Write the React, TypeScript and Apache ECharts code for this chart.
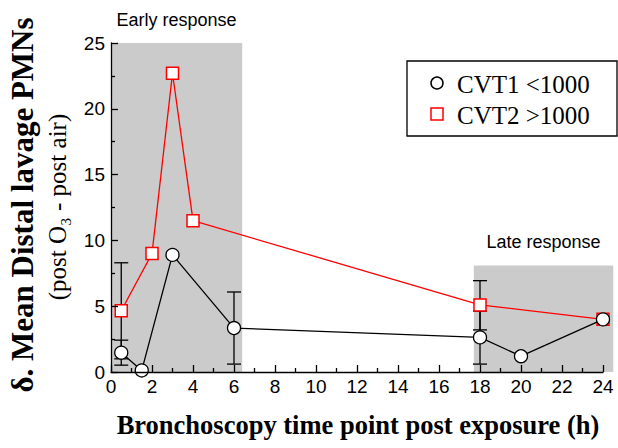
import React, { useEffect, useRef } from "react";
import * as echarts from "echarts";

// ---- data ----
const hoursCVT1 = [0.5, 1.5, 3, 6, 18, 20, 24];
const valuesCVT1 = [1.47, 0.12, 8.9, 3.34, 2.63, 1.2, 4.0];
const hoursCVT2 = [0.5, 2, 3, 4, 18, 24];
const valuesCVT2 = [4.65, 9.0, 22.7, 11.5, 5.1, 4.0];
// [hour, lower, upper]
const errorsCVT1 = [
  [0.5, 0.52, 2.42],
  [6, 0.6, 6.08],
  [18, 0.6, 4.63],
];
const errorsCVT2 = [
  [0.5, 1.0, 8.3],
  [18, 3.2, 6.94],
];
// [start hour, end hour, top value]
const windowRanges = [
  [0, 6.4, 25],
  [17.7, 24.5, 8.1],
];
const windowNames = ["Early response", "Late response"];
const seriesNames = ["CVT1 <1000", "CVT2 >1000"];
const yTitle = "δ. Mean Distal lavage PMNs";
const ySubTitle = "(post O₃ - post air)";
const xTitle = "Bronchoscopy time point post exposure (h)";

const SERIF = '"Liberation Serif", "Times New Roman", serif';
const SANS = '"Liberation Sans", Arial, sans-serif';

export default function App() {
  const ref = useRef<HTMLDivElement>(null);
  useEffect(() => {
    if (!ref.current) return;
    const chart = echarts.init(ref.current, null, { renderer: "svg" });

    const errorRender = (params: any, api: any) => {
      const x = api.value(0);
      const lo = api.coord([x, api.value(1)]);
      const hi = api.coord([x, api.value(2)]);
      const cap = 7;
      const st = { stroke: "#000", lineWidth: 1.3 };
      return {
        type: "group",
        children: [
          { type: "line", shape: { x1: lo[0], y1: lo[1], x2: hi[0], y2: hi[1] }, style: st },
          { type: "line", shape: { x1: lo[0] - cap, y1: lo[1], x2: lo[0] + cap, y2: lo[1] }, style: st },
          { type: "line", shape: { x1: hi[0] - cap, y1: hi[1], x2: hi[0] + cap, y2: hi[1] }, style: st },
        ],
      };
    };

    const axisCommon = {
      type: "value" as const,
      z: 10,
      axisLine: { show: true, onZero: false, lineStyle: { color: "#000", width: 1.3 } },
      axisTick: { show: true, inside: true, length: 7, lineStyle: { color: "#000", width: 1.3 } },
      minorTick: { show: true, splitNumber: 2, length: 4, lineStyle: { color: "#000", width: 1.3 } },
      splitLine: { show: false },
      minorSplitLine: { show: false },
    };

    chart.setOption({
      animation: false,
      backgroundColor: "#fff",
      grid: { left: 111, right: 15, top: 43, bottom: 76, containLabel: false },
      xAxis: {
        ...axisCommon,
        min: 0,
        max: 24,
        interval: 2,
        axisLabel: { color: "#000", fontSize: 19, fontFamily: SANS, margin: 5 },
      },
      yAxis: {
        ...axisCommon,
        min: 0,
        max: 25,
        interval: 5,
        axisLabel: { color: "#000", fontSize: 19, fontFamily: SANS, margin: 6 },
      },
      series: [
        {
          type: "custom",
          name: "windows",
          z: 1,
          silent: true,
          clip: false,
          data: windowRanges,
          encode: { x: [0, 1], y: 2 },
          renderItem: (params: any, api: any) => {
            const p0 = api.coord([api.value(0), api.value(2)]);
            const p1 = api.coord([api.value(1), 0]);
            return {
              type: "group",
              children: [
                {
                  type: "rect",
                  shape: { x: p0[0], y: p0[1], width: p1[0] - p0[0], height: p1[1] - p0[1] },
                  style: { fill: "#cbcbcb" },
                },
                {
                  type: "text",
                  style: {
                    text: windowNames[params.dataIndex],
                    x: (p0[0] + p1[0]) / 2,
                    y: p0[1] - 23,
                    align: "center",
                    verticalAlign: "middle",
                    fill: "#000",
                    font: `18px ${SANS}`,
                  },
                },
              ],
            };
          },
        },
        {
          type: "custom",
          name: "err1",
          z: 3,
          silent: true,
          clip: false,
          data: errorsCVT1,
          encode: { x: 0, y: [1, 2] },
          renderItem: errorRender,
        },
        {
          type: "custom",
          name: "err2",
          z: 3,
          silent: true,
          clip: false,
          data: errorsCVT2,
          encode: { x: 0, y: [1, 2] },
          renderItem: errorRender,
        },
        {
          type: "line",
          name: seriesNames[1],
          z: 4,
          clip: false,
          data: hoursCVT2.map((h, i) => [h, valuesCVT2[i]]),
          symbol: "rect",
          symbolSize: 12,
          lineStyle: { color: "#ff0000", width: 1.3 },
          itemStyle: { color: "#fff", borderColor: "#ff0000", borderWidth: 1.5 },
        },
        {
          type: "line",
          name: seriesNames[0],
          z: 5,
          clip: false,
          data: hoursCVT1.map((h, i) => [h, valuesCVT1[i]]),
          symbol: "circle",
          symbolSize: 13,
          lineStyle: { color: "#000", width: 1.3 },
          itemStyle: { color: "#fff", borderColor: "#000", borderWidth: 1.3 },
        },
      ],
      graphic: [
        {
          type: "text",
          x: 22,
          y: 205,
          rotation: Math.PI / 2,
          style: { text: yTitle, font: `bold 31px ${SERIF}`, align: "center", verticalAlign: "middle", fill: "#000" },
        },
        {
          type: "text",
          x: 57,
          y: 207,
          rotation: Math.PI / 2,
          style: { text: ySubTitle, font: `25px ${SERIF}`, align: "center", verticalAlign: "middle", fill: "#000" },
        },
        {
          type: "text",
          x: 358,
          y: 425,
          style: { text: xTitle, font: `bold 26.5px ${SERIF}`, align: "center", verticalAlign: "middle", fill: "#000" },
        },
        {
          type: "rect",
          shape: { x: 407, y: 61, width: 210, height: 75 },
          style: { fill: "#fff", stroke: "#000", lineWidth: 1.3 },
          z: 20,
        },
        {
          type: "circle",
          shape: { cx: 437, cy: 83, r: 6 },
          style: { fill: "#fff", stroke: "#000", lineWidth: 1.5 },
          z: 21,
        },
        {
          type: "rect",
          shape: { x: 431, y: 108, width: 12, height: 12 },
          style: { fill: "#fff", stroke: "#ff0000", lineWidth: 1.5 },
          z: 21,
        },
        {
          type: "text",
          x: 457,
          y: 84,
          z: 21,
          style: { text: seriesNames[0], font: `25px ${SERIF}`, align: "left", verticalAlign: "middle", fill: "#000" },
        },
        {
          type: "text",
          x: 457,
          y: 115,
          z: 21,
          style: { text: seriesNames[1], font: `25px ${SERIF}`, align: "left", verticalAlign: "middle", fill: "#000" },
        },
      ],
    });
    return () => chart.dispose();
  }, []);
  return <div ref={ref} style={{ position: "fixed", left: 0, top: 0, width: 618, height: 448 }} />;
}
